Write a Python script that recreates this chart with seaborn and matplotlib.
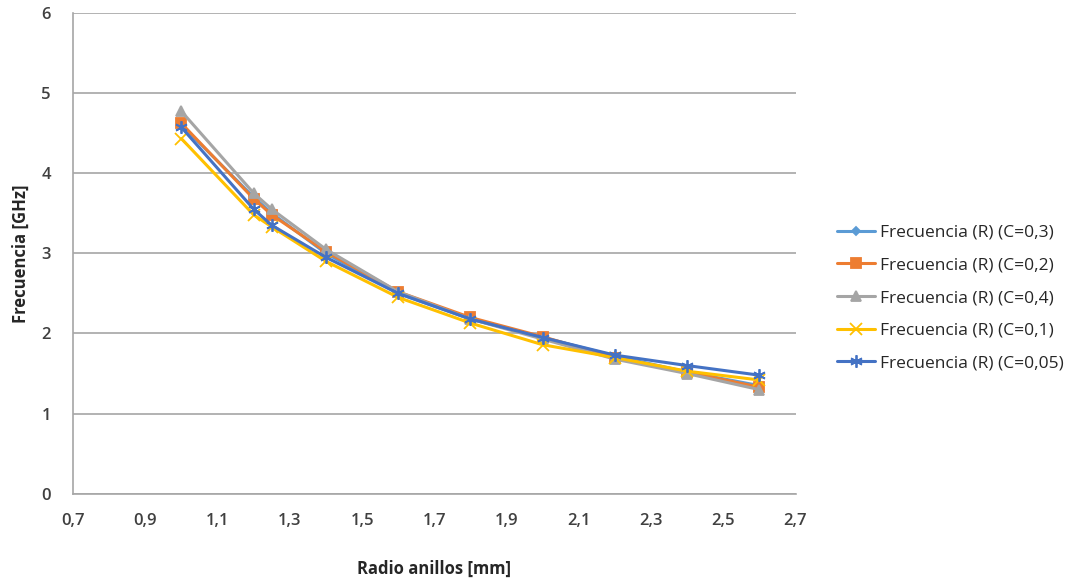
import numpy as np
import pandas as pd
import matplotlib
matplotlib.use("Agg")
import matplotlib.pyplot as plt
import seaborn as sns

radio = [1.0, 1.2, 1.25, 1.4, 1.6, 1.8, 2.0, 2.2, 2.4, 2.6]
f_c03 = [4.60, 3.70, 3.50, 3.00, 2.50, 2.18, 1.95, 1.72, 1.52, 1.35]
f_c02 = [4.62, 3.68, 3.48, 3.02, 2.52, 2.20, 1.96, 1.70, 1.52, 1.33]
f_c04 = [4.77, 3.75, 3.55, 3.05, 2.52, 2.18, 1.93, 1.68, 1.50, 1.30]
f_c01 = [4.43, 3.48, 3.33, 2.90, 2.45, 2.13, 1.86, 1.70, 1.53, 1.42]
f_c005 = [4.57, 3.55, 3.35, 2.95, 2.50, 2.18, 1.95, 1.73, 1.60, 1.48]

labels = ["Frecuencia (R) (C=0,3)", "Frecuencia (R) (C=0,2)", "Frecuencia (R) (C=0,4)",
          "Frecuencia (R) (C=0,1)", "Frecuencia (R) (C=0,05)"]
series = [f_c03, f_c02, f_c04, f_c01, f_c005]
colors = ["#5B9BD5", "#ED7D31", "#A5A5A5", "#FFC000", "#4472C4"]
markers = ["D", "s", "^", "x", (6, 2, 0)]
msizes = [4.5, 7, 7, 8, 9]

df = pd.DataFrame({
    "radio": radio * len(series),
    "freq": sum(series, []),
    "serie": [lab for lab in labels for _ in radio],
})

sns.set_style("white")
plt.rcParams["font.family"] = ["Open Sans", "DejaVu Sans"]

fig = plt.figure(figsize=(10.75, 5.81), dpi=100)
ax = fig.add_axes([0.068, 0.15, 0.672, 0.828])

for lab, col, mk, ms in zip(labels, colors, markers, msizes):
    sub = df[df["serie"] == lab]
    sns.lineplot(data=sub, x="radio", y="freq", ax=ax, color=col, linewidth=2.2,
                 marker=mk, markersize=ms, markeredgecolor=col, markeredgewidth=1.3,
                 label=lab)

ax.set_xlim(0.7, 2.7)
ax.set_ylim(0, 6)
xt = np.round(np.arange(0.7, 2.71, 0.2), 1)
ax.set_xticks(xt)
ax.set_xticklabels([f"{v:.1f}".replace(".", ",") for v in xt])
ax.set_yticks(range(7))
ax.tick_params(axis="both", labelsize=12, colors="#404040", length=0)
ax.tick_params(axis="x", pad=14)
ax.tick_params(axis="y", pad=16)
for t in ax.get_xticklabels() + ax.get_yticklabels():
    t.set_fontweight("semibold")
ax.yaxis.grid(True, color="#A6A6A6", linewidth=1.2)
for s in ["top", "right"]:
    ax.spines[s].set_visible(False)
for s in ["left", "bottom"]:
    ax.spines[s].set_color("#A6A6A6")
    ax.spines[s].set_linewidth(1.2)

ax.set_xlabel("Radio anillos [mm]", fontsize=12, fontweight="bold", color="#262626", labelpad=22)
ax.set_ylabel("Frecuencia [GHz]", fontsize=12, fontweight="bold", color="#262626", labelpad=8)

leg = ax.legend(loc="center left", bbox_to_anchor=(0.772, 0.487), bbox_transform=fig.transFigure,
                frameon=False, fontsize=12.5, labelspacing=0.95, handlelength=2.2,
                handletextpad=0.3, borderaxespad=0)
for t in leg.get_texts():
    t.set_color("#262626")

fig.savefig("out.png", dpi=100)
